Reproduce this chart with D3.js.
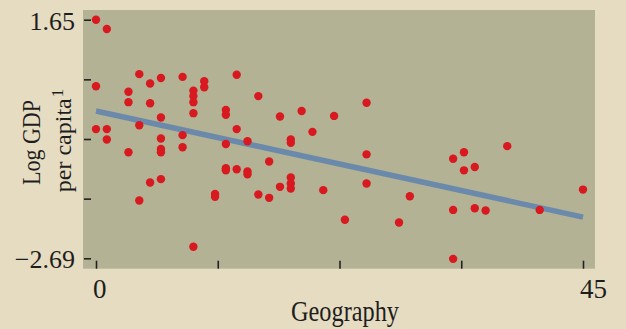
<!DOCTYPE html>
<html>
<head>
<meta charset="utf-8">
<script src="https://cdn.jsdelivr.net/npm/d3@7"></script>
<style>
  html, body { margin: 0; padding: 0; background: #e6dcc1; }
  svg { display: block; }
</style>
</head>
<body>
<svg id="chart" width="626" height="329"></svg>
<script>
// Geography index (x) against log GDP per capita (y), one entry per country
const geography = [
  0, 1, 4, 5, 6, 8, 10, 10, 0, 3, 3, 5, 9, 9, 9, 9, 6, 4, 0, 1, 1, 6, 8, 3, 6, 6, 8, 5, 6, 4, 9,
  13, 15, 12, 12, 17, 19, 22, 13, 12, 14, 18, 18, 20, 16, 12, 12, 13, 14, 14, 18, 18, 18, 17, 11, 11, 15, 16, 21,
  25, 25, 25, 29, 23, 28, 33, 34, 34, 33, 33,
  38, 35, 35, 36, 41, 45
];
const logGdp = [
  1.65, 1.48, 0.66, 0.49, 0.59, 0.61, 0.53, 0.42, 0.44, 0.34, 0.15, 0.13, 0.36, 0.26, 0.15, -0.05,
  -0.13, -0.27, -0.34, -0.34, -0.53, -0.51, -0.45, -0.76, -0.70, -0.76, -0.67, -1.31, -1.25, -1.64, -2.48,
  0.65, 0.26, 0.01, -0.08, -0.11, -0.01, -0.10, -0.34, -0.61, -0.56, -0.53, -0.59, -0.39, -0.93,
  -1.05, -1.09, -1.07, -1.11, -1.16, -1.22, -1.33, -1.42, -1.39, -1.52, -1.57, -1.53, -1.59, -1.45,
  0.14, -0.80, -1.33, -1.56, -1.99, -2.04, -0.88, -0.76, -1.09, -1.81, -2.70,
  -0.65, -1.03, -1.78, -1.82, -1.81, -1.44
];

// Fitted trend line endpoints
const fitX = [0, 45];
const fitY = [-0.01, -1.94];

// Axis ticks
const xTicks = [0, 11.25, 22.5, 33.75, 45];
const xTickLabels = ["0", "", "", "", "45"];
const yTicks = [1.65, 0.565, -0.52, -1.605, -2.69];
const yTickLabels = ["1.65", "", "", "", "\u22122.69"];

const svg = d3.select("#chart");

const plot = { left: 83, right: 595, top: 10, bottom: 268.7 };

const x = d3.scaleLinear().domain([0, 45]).range([96, 583]);
const y = d3.scaleLinear().domain([-2.69, 1.65]).range([258.3, 19.7]);

// Outer background and plotting panel
svg.append("rect").attr("width", 626).attr("height", 329).attr("fill", "#e6dcc1");
svg.append("rect")
  .attr("x", plot.left).attr("y", plot.top)
  .attr("width", plot.right - plot.left).attr("height", plot.bottom - plot.top)
  .attr("fill", "#b3b294");

const serif = "'Liberation Serif', 'Times New Roman', serif";

// Y axis: short inward ticks, labels only at the extremes
const yAxis = d3.axisLeft(y)
  .tickValues(yTicks)
  .tickSize(-7)
  .tickPadding(9)
  .tickFormat((d, i) => yTickLabels[i]);

const gy = svg.append("g")
  .attr("transform", `translate(${plot.left + 1},0)`)
  .call(yAxis);
gy.select(".domain").remove();
gy.selectAll(".tick line").attr("stroke", "#222").attr("stroke-width", 1.6);
gy.selectAll(".tick text")
  .attr("fill", "#1e1e1e")
  .attr("font-family", serif)
  .attr("font-size", 26)
  .attr("dy", "0.36em");

// X axis: upward ticks from the bottom edge
const xAxis = d3.axisBottom(x)
  .tickValues(xTicks)
  .tickSize(-8)
  .tickPadding(10)
  .tickFormat((d, i) => xTickLabels[i]);

const gx = svg.append("g")
  .attr("transform", `translate(0,${plot.bottom})`)
  .call(xAxis);
gx.select(".domain").remove();
gx.selectAll(".tick line").attr("stroke", "#222").attr("stroke-width", 1.6);
gx.selectAll(".tick text")
  .attr("fill", "#1e1e1e")
  .attr("font-family", serif)
  .attr("font-size", 27)
  .attr("text-anchor", "start")
  .attr("dx", -3.5);

// Trend line, drawn beneath the points
const line = d3.line().x(d => x(d[0])).y(d => y(d[1]));
svg.append("path")
  .datum(fitX.map((v, i) => [v, fitY[i]]))
  .attr("d", line)
  .attr("fill", "none")
  .attr("stroke", "#6b8aab")
  .attr("stroke-width", 5.5);

// Country points
const points = geography.map((g, i) => ({ g, v: logGdp[i] }));
svg.append("g")
  .selectAll("circle")
  .data(points)
  .join("circle")
  .attr("cx", d => x(d.g))
  .attr("cy", d => y(d.v))
  .attr("r", 4.2)
  .attr("fill", "#d8191f");

// Axis titles
svg.append("text")
  .attr("x", 345).attr("y", 321)
  .attr("text-anchor", "middle")
  .attr("font-family", serif)
  .attr("font-size", 29)
  .attr("fill", "#1e1e1e")
  .attr("textLength", 108)
  .attr("lengthAdjust", "spacingAndGlyphs")
  .text("Geography");

svg.append("text")
  .attr("transform", "translate(39.5,142.5) rotate(-90)")
  .attr("text-anchor", "middle")
  .attr("font-family", serif)
  .attr("font-size", 25)
  .attr("fill", "#1e1e1e")
  .attr("textLength", 85)
  .attr("lengthAdjust", "spacingAndGlyphs")
  .text("Log GDP");

const t2 = svg.append("text")
  .attr("transform", "translate(70.5,140.5) rotate(-90)")
  .attr("text-anchor", "middle")
  .attr("font-family", serif)
  .attr("font-size", 24)
  .attr("fill", "#1e1e1e");
t2.append("tspan").text("per capita");
t2.append("tspan")
  .attr("font-size", 17)
  .attr("dx", 1)
  .attr("dy", -8)
  .text("1");
</script>
</body>
</html>
